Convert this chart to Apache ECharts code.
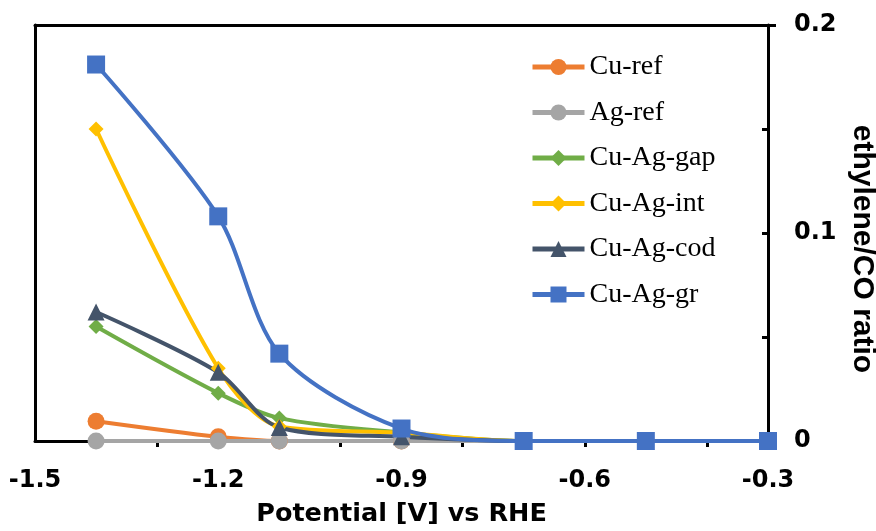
<!DOCTYPE html>
<html>
<head>
<meta charset="utf-8">
<script src="https://cdn.jsdelivr.net/npm/echarts@6/dist/echarts.min.js"></script>
<style>
  html, body { margin: 0; padding: 0; background: #fff; }
  #main { width: 876px; height: 531px; }
</style>
</head>
<body>
<div id="main"></div>
<script>
var potential = [-1.4, -1.2, -1.1, -0.9, -0.7, -0.5, -0.3];
var cuRef    = [0.0095, 0.002, 0, 0, 0, 0, 0];
var agRef    = [0, 0, 0, 0, 0, 0, 0];
var cuAgGap  = [0.055, 0.023, 0.011, 0.004, 0, 0, 0];
var cuAgInt  = [0.150, 0.035, 0.007, 0.004, 0, 0, 0];
var cuAgCod  = [0.062, 0.033, 0.0065, 0.002, 0, 0, 0];
var cuAgGr   = [0.181, 0.108, 0.042, 0.006, 0, 0, 0];
var xTicks = [-1.5, -1.2, -0.9, -0.6, -0.3];
var yTicks = [0, 0.1, 0.2];

var myChart = echarts.init(document.getElementById('main'));

function pairs(ys) {
  return potential.map(function(x, i) { return [x, ys[i]]; });
}

function line(name, ys, color, symbol, size) {
  return {
    name: name,
    type: 'line',
    data: pairs(ys),
    smooth: 0.3,
    symbol: symbol,
    symbolSize: size,
    lineStyle: { color: color, width: 4 },
    itemStyle: { color: color },
    xAxisIndex: 0,
    yAxisIndex: 0
  };
}

var axisFont = { fontFamily: 'DejaVu Sans', fontWeight: 'bold', fontSize: 24, color: '#000' };

var option = {
  animation: false,
  grid: { left: 35, right: 108, top: 25, bottom: 90, containLabel: false, outerBoundsMode: 'none' },
  legend: {
    orient: 'vertical',
    left: 525,
    top: 48,
    itemWidth: 52,
    itemHeight: 20,
    itemGap: 17.5,
    lineStyle: { width: 5 },
    textStyle: { fontFamily: 'Liberation Serif', fontSize: 28, color: '#000' },
    data: ['Cu-ref', 'Ag-ref', 'Cu-Ag-gap', 'Cu-Ag-int', 'Cu-Ag-cod', 'Cu-Ag-gr']
  },
  xAxis: [{
    type: 'value',
    min: -1.5,
    max: -0.3,
    interval: 0.3,
    splitLine: { show: false },
    axisLine: { show: true, onZero: false, lineStyle: { color: '#000', width: 3 } },
    axisTick: { show: true, inside: false, length: 6, customValues: [-1.3, -1.0, -0.8, -0.6, -0.4],
                lineStyle: { color: '#000', width: 3 } },
    axisLabel: Object.assign({ margin: 28, customValues: xTicks,
      formatter: function(v) { return v.toFixed(1); } }, axisFont),
    name: 'Potential [V] vs RHE',
    nameLocation: 'middle',
    nameGap: 60,
    nameTextStyle: Object.assign({}, axisFont, { fontSize: 25.5 })
  }, {
    type: 'value',
    position: 'top',
    min: -1.5,
    max: -0.3,
    splitLine: { show: false },
    axisLine: { show: true, onZero: false, lineStyle: { color: '#000', width: 3 } },
    axisTick: { show: false },
    axisLabel: { show: false }
  }],
  yAxis: [{
    type: 'value',
    position: 'right',
    min: 0,
    max: 0.2,
    interval: 0.1,
    splitLine: { show: false },
    axisLine: { show: true, onZero: false, lineStyle: { color: '#000', width: 3 } },
    axisTick: { show: true, inside: true, length: 6, customValues: [0.05, 0.1, 0.15],
                lineStyle: { color: '#000', width: 3 } },
    axisLabel: Object.assign({ margin: 26, customValues: yTicks,
      formatter: function(v) { return v === 0 ? '0' : v.toFixed(1); } }, axisFont),
    name: 'ethylene/CO ratio',
    nameLocation: 'middle',
    nameRotate: -90,
    nameGap: 79,
    nameTextStyle: { fontFamily: 'Liberation Sans', fontWeight: 'bold', fontSize: 30, color: '#000',
                     padding: [0, 0, 0, 32] }
  }, {
    type: 'value',
    position: 'left',
    min: 0,
    max: 0.2,
    splitLine: { show: false },
    axisLine: { show: true, onZero: false, lineStyle: { color: '#000', width: 3 } },
    axisTick: { show: false },
    axisLabel: { show: false }
  }, {
    type: 'value',
    position: 'right',
    min: 0,
    max: 0.2,
    splitLine: { show: false },
    axisLine: { show: false },
    axisTick: { show: true, inside: false, length: 8, customValues: [0.2],
                lineStyle: { color: '#000', width: 3 } },
    axisLabel: { show: false }
  }],
  series: [
    line('Cu-ref', cuRef, '#ED7D31', 'circle', 17),
    line('Ag-ref', agRef, '#A5A5A5', 'circle', 17),
    line('Cu-Ag-gap', cuAgGap, '#70AD47', 'diamond', 15),
    line('Cu-Ag-int', cuAgInt, '#FFC000', 'diamond', 15),
    line('Cu-Ag-cod', cuAgCod, '#44546A', 'triangle', 17),
    line('Cu-Ag-gr', cuAgGr, '#4472C4', 'rect', 18)
  ]
};

myChart.setOption(option);
</script>
</body>
</html>
